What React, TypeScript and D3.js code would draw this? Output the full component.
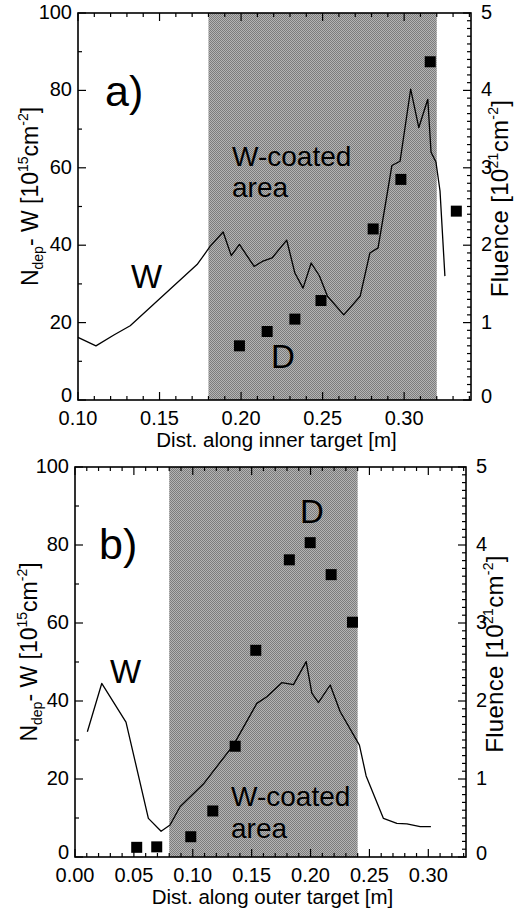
import React from 'react';
import * as d3 from 'd3';

// ---- panel a) inner target ----
const innerW_x = [0.100, 0.111, 0.122, 0.132, 0.173, 0.176, 0.181, 0.189, 0.194, 0.199, 0.208, 0.213, 0.219, 0.228, 0.233, 0.238, 0.243, 0.248, 0.253, 0.263, 0.273, 0.279, 0.284, 0.289, 0.2925, 0.2975, 0.304, 0.309, 0.3145, 0.3165, 0.3195, 0.322, 0.325];
const innerW_y = [16.2, 14.0, 16.8, 19.2, 35.0, 36.7, 39.7, 43.4, 37.3, 40.2, 34.5, 35.8, 36.7, 41.3, 32.8, 28.9, 35.4, 32.1, 26.8, 22.0, 26.8, 38.0, 39.3, 51.8, 60.6, 61.7, 80.3, 70.4, 77.7, 64.0, 61.5, 54.0, 32.0];
const innerD_x = [0.199, 0.216, 0.233, 0.249, 0.281, 0.298, 0.316, 0.332];
const innerD_f = [0.70, 0.885, 1.045, 1.285, 2.21, 2.85, 4.37, 2.44];

// ---- panel b) outer target ----
const outerW_x = [0.0105, 0.0227, 0.0433, 0.0623, 0.0731, 0.0807, 0.0892, 0.109, 0.1345, 0.1544, 0.1629, 0.1756, 0.1855, 0.1963, 0.2011, 0.2067, 0.2167, 0.2251, 0.2415, 0.2472, 0.2619, 0.2733, 0.2818, 0.2931, 0.3022];
const outerW_y = [32.1, 44.5, 34.6, 9.9, 6.6, 8.2, 12.9, 18.7, 28.7, 39.4, 41.1, 44.7, 44.2, 50.1, 42.0, 39.6, 44.1, 37.3, 28.7, 20.8, 9.9, 8.6, 8.5, 7.8, 7.8];
const outerD_x = [0.0524, 0.0694, 0.0983, 0.117, 0.136, 0.1535, 0.182, 0.1997, 0.2175, 0.2356];
const outerD_f = [0.124, 0.13, 0.26, 0.59, 1.42, 2.65, 3.81, 4.03, 3.62, 3.01];

const xTicksInner = [0.10, 0.15, 0.20, 0.25, 0.30];
const xTicksOuter = [0.00, 0.05, 0.10, 0.15, 0.20, 0.25, 0.30];
const leftTicks = [0, 20, 40, 60, 80, 100];
const rightTicks = [0, 1, 2, 3, 4, 5];

const FONT = '"Liberation Sans", Arial, Helvetica, sans-serif';

function Panel(props: any) {
  const { left, right, top, bottom, xDomain, xTicks, shade, wx, wy, dx, df, id, titleX } = props;
  const x = d3.scaleLinear().domain(xDomain).range([left, right]);
  const y = d3.scaleLinear().domain([0, 100]).range([bottom, top]);
  const yR = d3.scaleLinear().domain([0, 5]).range([bottom, top]);
  const line = d3.line<number>().x((d, i) => x(wx[i])).y(d => y(d));

  const minorX = d3.range(Math.ceil(xDomain[0] * 100), Math.floor(xDomain[1] * 100) + 1).map(v => v / 100);
  const minorL = d3.range(0, 101, 10);
  const minorR = d3.range(0, 51).map(v => v / 10);
  const mid = (top + bottom) / 2;

  return (
    <g>
      <rect x={x(shade[0])} y={top} width={x(shade[1]) - x(shade[0])} height={bottom - top} fill="url(#dither)" />
      <path d={line(wy) || ''} fill="none" stroke="#000" strokeWidth={1.3} strokeLinejoin="round" />
      {dx.map((v: number, i: number) => (
        <rect key={i} x={x(v) - 5.5} y={yR(df[i]) - 5.5} width={11} height={11} fill="#000" />
      ))}
      {/* ticks */}
      {minorX.map((v, i) => {
        const major = xTicks.some((t: number) => Math.abs(t - v) < 1e-6);
        const len = major ? 8 : 4;
        return (
          <g key={'x' + i}>
            <line x1={x(v)} x2={x(v)} y1={bottom} y2={bottom - len} stroke="#000" strokeWidth={1.2} />
            <line x1={x(v)} x2={x(v)} y1={top} y2={top + len} stroke="#000" strokeWidth={1.2} />
          </g>
        );
      })}
      {minorL.map((v, i) => {
        const len = v % 20 === 0 ? 8 : 4;
        return <line key={'l' + i} x1={left} x2={left + len} y1={y(v)} y2={y(v)} stroke="#000" strokeWidth={1.2} />;
      })}
      {minorR.map((v, i) => {
        const len = Math.abs(v - Math.round(v)) < 1e-6 ? 8 : 4;
        return <line key={'r' + i} x1={right} x2={right - len} y1={yR(v)} y2={yR(v)} stroke="#000" strokeWidth={1.2} />;
      })}
      <rect x={left} y={top} width={right - left} height={bottom - top} fill="none" stroke="#000" strokeWidth={1.6} />
      {/* tick labels */}
      <g fontFamily={FONT} fontSize={20} fill="#000">
        {xTicks.map((t: number, i: number) => (
          <text key={'xt' + i} x={x(t)} y={bottom + 25} textAnchor="middle">{t.toFixed(2)}</text>
        ))}
        {leftTicks.map((t, i) => (
          <text key={'lt' + i} x={left - 6} y={y(t) - (t === 0 ? 4 : 0)} dy="0.3em" textAnchor="end">{t}</text>
        ))}
        {rightTicks.map((t, i) => (
          <text key={'rt' + i} x={right + 10} y={yR(t) - (t === 0 ? 3 : 0)} dy="0.3em" textAnchor="start">{t}</text>
        ))}
      </g>
      {/* y titles */}
      <text transform={`translate(${titleX},${mid - 10}) rotate(-90)`} textAnchor="middle" fontFamily={FONT} fontSize={23}>
        N<tspan fontSize={14} dy={5}>dep</tspan><tspan dy={-5}>- W [10</tspan><tspan fontSize={14} dy={-10}>15</tspan><tspan dy={10}>cm</tspan><tspan fontSize={14} dy={-10}>-2</tspan><tspan dy={10}>]</tspan>
      </text>
      <text transform={`translate(${right + 37},${mid - 8}) rotate(-90)`} textAnchor="middle" fontFamily={FONT} fontSize={24} style={{ letterSpacing: '0.3px' }}>
        Fluence [10<tspan fontSize={14} dy={-10}>21</tspan><tspan dy={10}>cm</tspan><tspan fontSize={14} dy={-10}>-2</tspan><tspan dy={10}>]</tspan>
      </text>
      <text x={(left + right) / 2 + 2} y={bottom + 47} textAnchor="middle" fontFamily={FONT} fontSize={20.5}>
        {id === 'a' ? 'Dist. along inner target [m]' : 'Dist. along outer target [m]'}
      </text>
    </g>
  );
}

export default function App() {
  return (
    <div style={{ position: 'absolute', left: 0, top: 0 }}>
      <svg width={520} height={913} style={{ display: 'block', background: '#fff' }}>
        <defs>
          <pattern id="dither" width={2} height={2} patternUnits="userSpaceOnUse">
            <rect width={2} height={2} fill="#b4b4b4" />
            <rect width={1} height={1} fill="#7c7c7c" />
            <rect x={1} y={1} width={1} height={1} fill="#7c7c7c" />
          </pattern>
        </defs>
        <Panel id="a" left={78} right={471} top={13} bottom={400} xDomain={[0.10, 0.341]} xTicks={xTicksInner}
          shade={[0.18, 0.32]} wx={innerW_x} wy={innerW_y} dx={innerD_x} df={innerD_f} titleX={38} />
        <Panel id="b" left={75} right={466} top={467} bottom={857} xDomain={[0, 0.332]} xTicks={xTicksOuter}
          shade={[0.08, 0.24]} wx={outerW_x} wy={outerW_y} dx={outerD_x} df={outerD_f} titleX={37} />
        <g fontFamily={FONT} fill="#000">
          <text x={105} y={106} fontSize={43}>a)</text>
          <text x={232} y={166} fontSize={28}>W-coated</text>
          <text x={232} y={197} fontSize={28}>area</text>
          <text x={131} y={288} fontSize={33}>W</text>
          <text x={271} y={368} fontSize={33}>D</text>
          <text x={99} y={559} fontSize={43}>b)</text>
          <text x={300} y={523} fontSize={33}>D</text>
          <text x={110} y={683} fontSize={33}>W</text>
          <text x={231} y={806} fontSize={28}>W-coated</text>
          <text x={231} y={838} fontSize={28}>area</text>
        </g>
      </svg>
    </div>
  );
}
